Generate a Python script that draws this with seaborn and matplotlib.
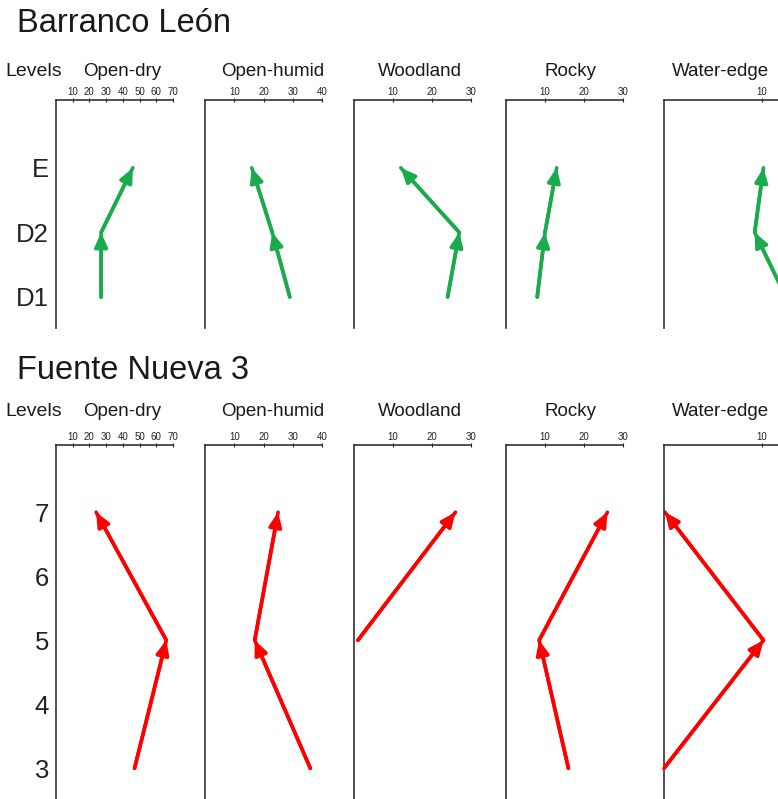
import numpy as np
import matplotlib
matplotlib.use('Agg')
import matplotlib.pyplot as plt
import pandas as pd
import seaborn as sns

# habitats and axis extents (top x axis)
habitats = ['Open-dry', 'Open-humid', 'Woodland', 'Rocky', 'Water-edge']
x_max = [70, 40, 30, 30, 12]
x_ticks = [[10, 20, 30, 40, 50, 60, 70], [10, 20, 30, 40], [10, 20, 30], [10, 20, 30], [10]]

# Barranco León (levels bottom -> top)
bl_levels = ['D1', 'D2', 'E']
bl_open_dry = [27, 27, 46]
bl_open_humid = [29, 23, 16]
bl_woodland = [24, 27, 12]
bl_rocky = [8, 10, 13]
bl_water_edge = [12.5, 9.3, 10.2]

# Fuente Nueva 3
fn3_levels = [3, 5, 7]
fn3_tick_levels = [3, 4, 5, 6, 7]
fn3_open_dry = [47, 66, 24]
fn3_open_humid = [36, 17, 25]
fn3_woodland = [np.nan, 1, 26]
fn3_rocky = [16, 8.5, 26]
fn3_water_edge = [0, 10.2, 0.1]

green = '#1aab4b'
red = '#ff0000'

sns.set_style('white')
plt.rcParams['font.family'] = ['Liberation Sans', 'DejaVu Sans']

fig = plt.figure(figsize=(7.78, 7.99), dpi=100)
W, H = 778, 799

lefts = [56, 205, 354, 506, 664]
panel_w = 117
# horizontal centre of each panel heading, as a fraction of the panel width
head_x = [0.565, 0.575, 0.565, 0.555, 0.48]


def draw_row(values, ypos, ylim, yticks, yticklabels, top_px, bottom_px, color, title, title_px, head_px):
    fig.text(17 / W, 1 - title_px / H, title, fontsize=23.5, ha='left', va='center', color='#1a1a1a')
    fig.text(5 / W, 1 - head_px / H, 'Levels', fontsize=14, ha='left', va='baseline', color='#1a1a1a')
    axes = []
    for i, hab in enumerate(habitats):
        ax = fig.add_axes([lefts[i] / W, 1 - bottom_px / H, panel_w / W, (bottom_px - top_px) / H])
        df = pd.DataFrame({'value': values[i], 'level': ypos}).dropna()
        sns.lineplot(data=df, x='value', y='level', sort=False, orient='y',
                     color=color, linewidth=2.6, ax=ax)
        xs = df['value'].to_numpy()
        ys = df['level'].to_numpy()
        for k in range(1, len(xs)):
            ax.annotate('', xy=(xs[k], ys[k]), xytext=(xs[k - 1], ys[k - 1]),
                        arrowprops=dict(arrowstyle='-|>,head_length=0.85,head_width=0.38',
                                        color=color, lw=2.6, shrinkA=0, shrinkB=0,
                                        mutation_scale=10),
                        annotation_clip=False)
        ax.set_xlim(0, x_max[i])
        ax.set_ylim(*ylim)
        ax.xaxis.tick_top()
        ax.set_xticks(x_ticks[i])
        ax.tick_params(axis='x', labelsize=7, length=3, width=0.8, direction='inout',
                       pad=1, colors='#222222')
        ax.set_yticks(yticks)
        if i == 0:
            ax.set_yticklabels(yticklabels, fontsize=18.5)
            ax.tick_params(axis='y', length=4, width=0.8, direction='out', pad=1, colors='#222222')
        else:
            ax.set_yticklabels([])
            ax.tick_params(axis='y', length=3, width=0.8, direction='inout', colors='#444444')
        for s in ['right', 'bottom']:
            ax.spines[s].set_visible(False)
        for s in ['left', 'top']:
            ax.spines[s].set_color('#333333')
            ax.spines[s].set_linewidth(1.2)
        ax.set_xlabel('')
        ax.set_ylabel('')
        ax.patch.set_alpha(0)
        ax.text(head_x[i], 1 + (top_px - head_px) / (bottom_px - top_px),
                hab, transform=ax.transAxes, fontsize=13.5, ha='center', va='baseline',
                color='#1a1a1a')
        axes.append(ax)
    return axes


bl_vals = [bl_open_dry, bl_open_humid, bl_woodland, bl_rocky, bl_water_edge]
bl_pos = [bl_levels.index(l) + 1 for l in bl_levels]
draw_row(bl_vals, bl_pos, (0.52, 4.05), bl_pos, bl_levels, 100, 328, green,
         'Barranco León', 24, 76)

fn3_vals = [fn3_open_dry, fn3_open_humid, fn3_woodland, fn3_rocky, fn3_water_edge]
draw_row(fn3_vals, fn3_levels, (2.52, 8.05), fn3_tick_levels, [str(v) for v in fn3_tick_levels],
         445, 799, red, 'Fuente Nueva 3', 370, 416)

fig.savefig('out.png', dpi=100)
